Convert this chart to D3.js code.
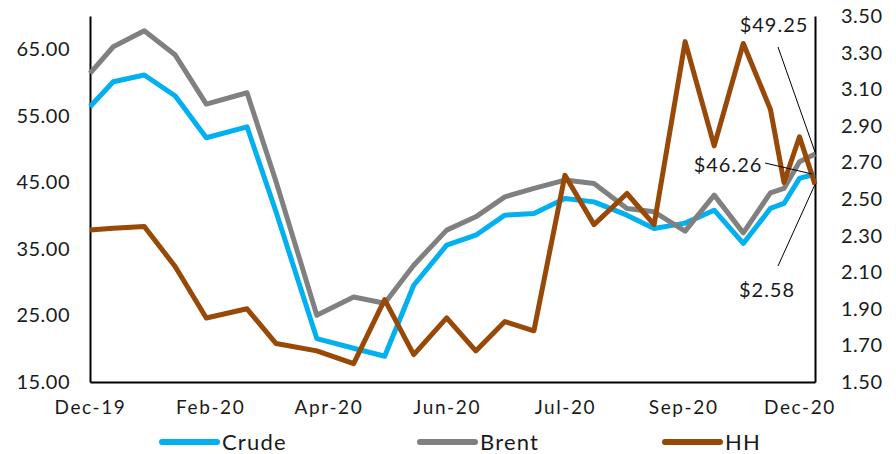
<!DOCTYPE html>
<html>
<head>
<meta charset="utf-8">
<script src="https://cdn.jsdelivr.net/npm/d3@7/dist/d3.min.js"></script>
<style>
  body { margin: 0; background: #fff; }
  svg text { font-family: "Century Gothic", Lato, "Noto Sans", sans-serif; fill: #1a1a1a; }
</style>
</head>
<body>
<div id="chart"></div>
<script>
// observation dates (semi-monthly, weekly at the end)
var dates = ["2019-12-01","2019-12-13","2019-12-29","2020-01-14","2020-01-30","2020-02-20","2020-03-06",
  "2020-03-27","2020-04-15","2020-05-01","2020-05-16","2020-06-02","2020-06-17","2020-07-02","2020-07-17",
  "2020-08-02","2020-08-17","2020-09-03","2020-09-17","2020-10-03","2020-10-18","2020-11-02","2020-11-16",
  "2020-11-23","2020-12-01","2020-12-09"];
var crude = [56.36,60.12,61.13,57.97,51.70,53.35,40.54,21.53,20.07,18.87,29.54,35.56,37.06,40.07,40.33,
  42.58,42.07,40.07,38.07,38.87,40.82,35.82,41.08,41.83,45.59,46.26];
var brent = [61.38,65.38,67.79,64.13,56.77,58.47,45.10,25.03,27.78,26.84,32.55,37.82,39.82,42.82,44.09,
  45.34,44.84,41.08,40.57,37.67,43.08,37.41,43.43,44.09,48.09,49.25];
var hh = [2.33,2.34,2.35,2.13,1.85,1.90,1.71,1.67,1.60,1.95,1.65,1.85,1.67,1.83,1.78,
  2.63,2.36,2.53,2.36,3.36,2.79,3.35,2.99,2.59,2.84,2.58];
var tickDates = ["2019-12-01","2020-02-01","2020-04-02","2020-06-02","2020-08-02","2020-10-02","2020-12-01"];
var tickLabels = ["Dec-19","Feb-20","Apr-20","Jun-20","Jul-20","Sep-20","Dec-20"];
var leftTicks = [15,25,35,45,55,65];
var rightTicks = [1.5,1.7,1.9,2.1,2.3,2.5,2.7,2.9,3.1,3.3,3.5];
var seriesNames = ["Crude","Brent","HH"];
var colors = ["#00b0f0","#808080","#984807"];

var W = 896, H = 454, m = {top: 16, right: 81, bottom: 72, left: 90};
var parse = d3.timeParse("%Y-%m-%d");
var xd = dates.map(parse);

var svg = d3.select("#chart").append("svg").attr("width", W).attr("height", H);
var x = d3.scaleTime().domain([xd[0], xd[xd.length - 1]]).range([m.left, W - m.right]);
var yL = d3.scaleLinear().domain([15, 70]).range([H - m.bottom, m.top]);
var yR = d3.scaleLinear().domain([1.5, 3.5]).range([H - m.bottom, m.top]);

var axL = svg.append("g").attr("transform", "translate(" + m.left + ",0)")
  .call(d3.axisLeft(yL).tickValues(leftTicks).tickFormat(d3.format(".2f")).tickSize(0).tickPadding(20));
var axR = svg.append("g").attr("transform", "translate(" + (W - m.right) + ",0)")
  .call(d3.axisRight(yR).tickValues(rightTicks).tickFormat(d3.format(".2f")).tickSize(0).tickPadding(26));
var axB = svg.append("g").attr("transform", "translate(0," + (H - m.bottom) + ")")
  .call(d3.axisBottom(x).tickValues(tickDates.map(parse)).tickFormat(function(d, i) { return tickLabels[i]; })
    .tickSize(0).tickPadding(19));
[axL, axR, axB].forEach(function(g) {
  g.selectAll("text").style("font-size", "20px").attr("fill", "#1a1a1a");
  g.select(".domain").attr("stroke", "#000").attr("stroke-width", 2);
});
axL.selectAll("text").style("letter-spacing", "0.5px");
axR.selectAll("text").style("letter-spacing", "0.5px");
axB.selectAll("text").style("font-size", "19px").style("letter-spacing", "1.6px");

var series = [
  {v: crude, y: yL}, {v: brent, y: yL}, {v: hh, y: yR}
];
series.forEach(function(s, k) {
  var line = d3.line().x(function(d, i) { return x(xd[i]); }).y(function(d) { return s.y(d); });
  svg.append("path").datum(s.v).attr("d", line).attr("fill", "none")
    .attr("stroke", colors[k]).attr("stroke-width", 5).attr("stroke-linejoin", "round");
});

// end-value callouts
var last = xd.length - 1;
var callouts = [
  {t: "$49.25", tx: 774, ty: 25, lx: 778, ly: 47, px: x(xd[last]), py: yL(brent[last]) - 2},
  {t: "$46.26", tx: 728, ty: 165, lx: 765, ly: 163, px: x(xd[last]) - 3, py: yL(crude[last])},
  {t: "$2.58", tx: 767, ty: 290, lx: 778, ly: 266, px: x(xd[last]), py: yR(hh[last])}
];
callouts.forEach(function(c) {
  svg.append("line").attr("x1", c.lx).attr("y1", c.ly).attr("x2", c.px).attr("y2", c.py)
    .attr("stroke", "#000").attr("stroke-width", 1);
  svg.append("text").attr("x", c.tx).attr("y", c.ty).attr("dy", "0.35em").attr("text-anchor", "middle")
    .style("font-size", "20px").style("letter-spacing", "1px").text(c.t);
});

// legend
var legX = [162, 420, 665];
var lg = svg.append("g").attr("transform", "translate(0,442)");
seriesNames.forEach(function(n, k) {
  lg.append("line").attr("x1", legX[k]).attr("x2", legX[k] + 55).attr("stroke", colors[k])
    .attr("stroke-width", 6).attr("stroke-linecap", "round");
  lg.append("text").attr("x", legX[k] + 60).attr("dy", "0.35em").style("font-size", "22px")
    .style("letter-spacing", "1.2px").text(n);
});
</script>
</body>
</html>
